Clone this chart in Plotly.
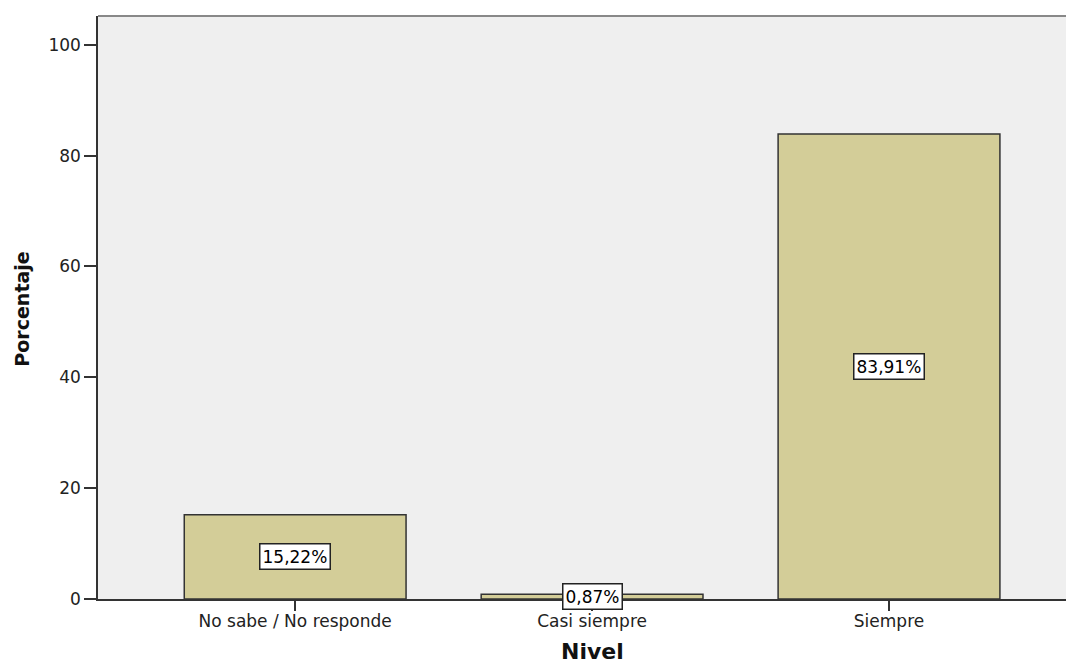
import plotly.graph_objects as go

categories = ["No sabe / No responde", "Casi siempre", "Siempre"]
values = [15.22, 0.87, 83.91]
labels = ["15,22%", "0,87%", "83,91%"]
y_ticks = [0, 20, 40, 60, 80, 100]

FONT = "DejaVu Sans, Verdana, sans-serif"

fig = go.Figure()
fig.add_trace(go.Bar(
    x=categories, y=values, width=0.747,
    marker=dict(color="#d3cd98", line=dict(color="#333333", width=1.5)),
    hoverinfo="skip",
))

for c, v, t in zip(categories, values, labels):
    fig.add_annotation(x=c, y=v / 2, text=t, showarrow=False,
                       font=dict(family=FONT, size=17, color="#000"),
                       bgcolor="white", bordercolor="#222", borderwidth=1.5,
                       borderpad=2)

fig.add_shape(type="line", xref="paper", yref="paper", x0=0, x1=1, y0=1, y1=1,
              line=dict(color="#888888", width=2))

fig.add_annotation(xref="paper", yref="paper", x=-0.0779, y=0.498,
                   text="<b>Porcentaje</b>", textangle=-90, showarrow=False,
                   xanchor="center", yanchor="middle",
                   font=dict(family=FONT, size=19, color="#111"))
fig.add_annotation(xref="paper", yref="paper", x=(592 - 98) / 976, y=-0.115,
                   text="<b>Nivel</b>", showarrow=False,
                   xanchor="center", yanchor="bottom",
                   font=dict(family=FONT, size=22, color="#111"))

fig.update_layout(
    width=1066, height=656,
    margin=dict(l=90, r=0, t=8, b=65),
    paper_bgcolor="white", plot_bgcolor="#efefef",
    font=dict(family=FONT, size=17, color="#222"),
    showlegend=False,
    xaxis=dict(range=[-0.664, 2.623], showgrid=False, zeroline=False,
               showline=True, linecolor="#333", linewidth=1.5,
               ticks="outside", ticklen=10, tickcolor="#333", tickwidth=1.5,
               ticklabelstandoff=-4,
               tickfont=dict(size=17, color="#222")),
    yaxis=dict(range=[0, 105.2], tickvals=y_ticks, showgrid=False, zeroline=False,
               showline=True, linecolor="#333", linewidth=1.5,
               ticks="outside", ticklen=12, tickcolor="#333", tickwidth=1.5,
               tickfont=dict(size=17, color="#222")),
)

fig.write_html("out.html")
